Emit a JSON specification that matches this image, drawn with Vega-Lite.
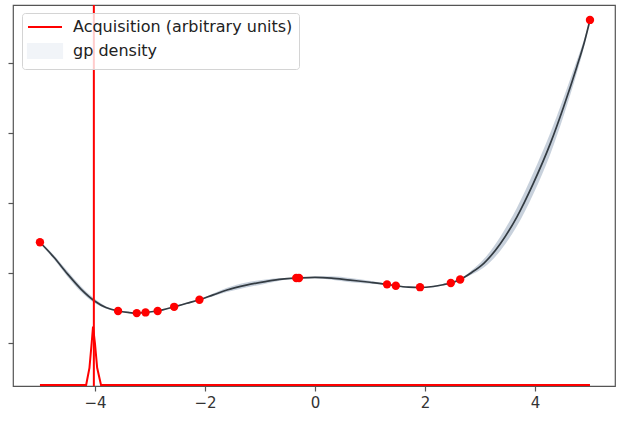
{
  "$schema": "https://vega.github.io/schema/vega-lite/v6.json",
  "width": 602,
  "height": 381,
  "autosize": {"type": "none"},
  "padding": {"left": 13, "top": 5, "right": 2, "bottom": 37},
  "background": "white",
  "config": {
    "view": {"stroke": "#555", "strokeWidth": 1.2},
    "axis": {"grid": false, "domain": false, "tickColor": "#555", "tickSize": 5, "tickWidth": 1.2, "labelFont": "DejaVu Sans", "labelFontSize": 15, "labelColor": "#333", "title": null},
    "legend": {
      "orient": "none", "legendX": 9, "legendY": 8,
      "fillColor": "rgba(255,255,255,0.8)", "strokeColor": "#d4d4d4", "cornerRadius": 3,
      "padding": 6, "labelFont": "DejaVu Sans", "labelFontSize": 16, "labelColor": "#222", "labelLimit": 0,
      "symbolSize": 185, "symbolOffset": 9, "labelOffset": 20, "rowPadding": 4
    }
  },
  "datasets": {
    "curve": [
      {"x": -5.0, "m": 1.44, "lo1": 1.43, "hi1": 1.45},
      {"x": -4.75, "m": 1.23, "lo1": 1.2, "hi1": 1.26},
      {"x": -4.5, "m": 0.99, "lo1": 0.95, "hi1": 1.03},
      {"x": -4.25, "m": 0.77, "lo1": 0.73, "hi1": 0.81},
      {"x": -4.0, "m": 0.6, "lo1": 0.57, "hi1": 0.63},
      {"x": -3.8, "m": 0.51, "lo1": 0.495, "hi1": 0.525},
      {"x": -3.58, "m": 0.46, "lo1": 0.455, "hi1": 0.465},
      {"x": -3.4, "m": 0.44, "lo1": 0.434, "hi1": 0.446},
      {"x": -3.24, "m": 0.43, "lo1": 0.426, "hi1": 0.434},
      {"x": -3.08, "m": 0.44, "lo1": 0.436, "hi1": 0.444},
      {"x": -2.86, "m": 0.46, "lo1": 0.455, "hi1": 0.465},
      {"x": -2.56, "m": 0.52, "lo1": 0.515, "hi1": 0.525},
      {"x": -2.33, "m": 0.57, "lo1": 0.56, "hi1": 0.58},
      {"x": -2.1, "m": 0.62, "lo1": 0.615, "hi1": 0.625},
      {"x": -1.85, "m": 0.69, "lo1": 0.67, "hi1": 0.71},
      {"x": -1.6, "m": 0.76, "lo1": 0.73, "hi1": 0.79},
      {"x": -1.25, "m": 0.83, "lo1": 0.795, "hi1": 0.865},
      {"x": -0.9, "m": 0.88, "lo1": 0.85, "hi1": 0.91},
      {"x": -0.6, "m": 0.915, "lo1": 0.9, "hi1": 0.93},
      {"x": -0.31, "m": 0.93, "lo1": 0.925, "hi1": 0.935},
      {"x": 0.0, "m": 0.94, "lo1": 0.928, "hi1": 0.952},
      {"x": 0.3, "m": 0.93, "lo1": 0.905, "hi1": 0.955},
      {"x": 0.64, "m": 0.9, "lo1": 0.87, "hi1": 0.93},
      {"x": 1.0, "m": 0.87, "lo1": 0.85, "hi1": 0.89},
      {"x": 1.31, "m": 0.84, "lo1": 0.835, "hi1": 0.845},
      {"x": 1.47, "m": 0.82, "lo1": 0.815, "hi1": 0.825},
      {"x": 1.7, "m": 0.8, "lo1": 0.788, "hi1": 0.812},
      {"x": 1.91, "m": 0.795, "lo1": 0.79, "hi1": 0.8},
      {"x": 2.15, "m": 0.81, "lo1": 0.798, "hi1": 0.822},
      {"x": 2.33, "m": 0.835, "lo1": 0.827, "hi1": 0.843},
      {"x": 2.47, "m": 0.86, "lo1": 0.855, "hi1": 0.865},
      {"x": 2.64, "m": 0.91, "lo1": 0.905, "hi1": 0.915},
      {"x": 2.85, "m": 1.01, "lo1": 0.98, "hi1": 1.04},
      {"x": 3.07, "m": 1.14, "lo1": 1.08, "hi1": 1.2},
      {"x": 3.37, "m": 1.42, "lo1": 1.32, "hi1": 1.52},
      {"x": 3.67, "m": 1.8, "lo1": 1.67, "hi1": 1.93},
      {"x": 3.97, "m": 2.28, "lo1": 2.13, "hi1": 2.43},
      {"x": 4.28, "m": 2.85, "lo1": 2.7, "hi1": 3.0},
      {"x": 4.52, "m": 3.37, "lo1": 3.24, "hi1": 3.5},
      {"x": 4.76, "m": 3.94, "lo1": 3.85, "hi1": 4.03},
      {"x": 4.9, "m": 4.3, "lo1": 4.25, "hi1": 4.35},
      {"x": 5.0, "m": 4.61, "lo1": 4.6, "hi1": 4.62}
    ],
    "acq": [
      {"x": -5.0, "a": -0.594, "series": "Acquisition (arbitrary units)"},
      {"x": -4.16, "a": -0.594, "series": "Acquisition (arbitrary units)"},
      {"x": -4.1, "a": -0.35, "series": "Acquisition (arbitrary units)"},
      {"x": -4.06, "a": 0.0, "series": "Acquisition (arbitrary units)"},
      {"x": -4.035, "a": 0.237, "series": "Acquisition (arbitrary units)"},
      {"x": -4.0, "a": 0.0, "series": "Acquisition (arbitrary units)"},
      {"x": -3.96, "a": -0.35, "series": "Acquisition (arbitrary units)"},
      {"x": -3.89, "a": -0.594, "series": "Acquisition (arbitrary units)"},
      {"x": 5.0, "a": -0.594, "series": "Acquisition (arbitrary units)"}
    ],
    "best": [{"x": -4.02}],
    "obs": [
      {"x": -5.0, "y": 1.44},
      {"x": -3.58, "y": 0.46},
      {"x": -3.24, "y": 0.43},
      {"x": -3.08, "y": 0.44},
      {"x": -2.86, "y": 0.46},
      {"x": -2.56, "y": 0.52},
      {"x": -2.1, "y": 0.62},
      {"x": -0.34, "y": 0.93},
      {"x": -0.29, "y": 0.93},
      {"x": 1.31, "y": 0.84},
      {"x": 1.47, "y": 0.82},
      {"x": 1.91, "y": 0.8},
      {"x": 2.47, "y": 0.86},
      {"x": 2.64, "y": 0.91},
      {"x": 5.0, "y": 4.61}
    ]
  },
  "layer": [
    {
      "data": {"name": "curve"},
      "mark": {"type": "area", "color": "#c2ccd8", "opacity": 0.9, "interpolate": "monotone"},
      "encoding": {
        "x": {"field": "x", "type": "quantitative", "scale": {"domain": [-5.49, 5.455], "nice": false, "zero": false}, "axis": {"values": [-4, -2, 0, 2, 4], "format": "d", "labelPadding": 4}},
        "y": {"field": "lo1", "type": "quantitative", "scale": {"domain": [-0.609, 4.823], "nice": false, "zero": false}, "axis": {"values": [0, 1, 2, 3, 4], "labels": false}},
        "y2": {"field": "hi1"}
      }
    },
    {
      "data": {"name": "curve"},
      "mark": {"type": "line", "color": "#333b42", "strokeWidth": 1.7, "interpolate": "monotone"},
      "encoding": {
        "x": {"field": "x", "type": "quantitative"},
        "y": {"field": "m", "type": "quantitative"}
      }
    },
    {
      "data": {"name": "acq"},
      "mark": {"type": "line", "strokeWidth": 2},
      "encoding": {
        "x": {"field": "x", "type": "quantitative"},
        "y": {"field": "a", "type": "quantitative"},
        "color": {
          "field": "series", "type": "nominal",
          "scale": {"domain": ["Acquisition (arbitrary units)", "gp density"], "range": ["#ff0000", "#f1f4f8"]},
          "legend": {
            "title": null,
            "encode": {"symbols": {"update": {
              "shape": [{"test": "datum.value === 'gp density'", "value": "M-2.5,-1H2.5V1H-2.5Z"}, {"value": "M-2.5,0H2.5"}],
              "fill": [{"test": "datum.value === 'gp density'", "value": "#f1f4f8"}, {"value": "transparent"}],
              "stroke": [{"test": "datum.value === 'gp density'", "value": "transparent"}, {"value": "#ff0000"}],
              "strokeWidth": {"value": 2.2},
              "opacity": {"value": 1}
            }}}
          }
        }
      }
    },
    {
      "data": {"name": "best"},
      "mark": {"type": "rule", "color": "#ff0000", "strokeWidth": 2},
      "encoding": {"x": {"field": "x", "type": "quantitative"}}
    },
    {
      "data": {"name": "obs"},
      "mark": {"type": "point", "filled": true, "color": "#ff0000", "size": 70, "opacity": 1},
      "encoding": {
        "x": {"field": "x", "type": "quantitative"},
        "y": {"field": "y", "type": "quantitative"}
      }
    }
  ]
}
